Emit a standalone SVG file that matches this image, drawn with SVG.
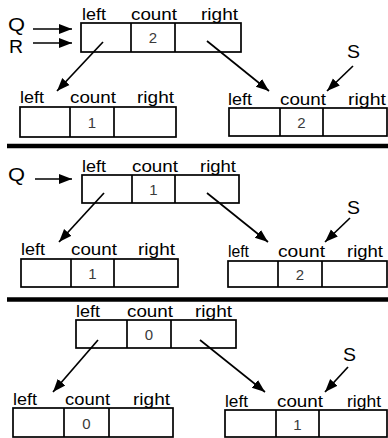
<svg xmlns="http://www.w3.org/2000/svg" width="388" height="438" viewBox="0 0 388 438">
  <style>
    .box { fill: #fff; stroke: #000; stroke-width: 1.7; }
    .div { stroke: #000; stroke-width: 1.7; }
    .lbl { font-family: "Liberation Sans", Arial, sans-serif; font-size: 16.5px; fill: #000; }
    .num { font-family: "Liberation Sans", Arial, sans-serif; font-size: 15px; fill: #3a3a3a; text-anchor: middle; }
    .ptr { font-family: "Liberation Sans", Arial, sans-serif; font-size: 18px; fill: #000; }
    .arr { stroke: #000; stroke-width: 1.7; fill: none; marker-end: url(#head); }
    .sep { stroke: #000; stroke-width: 4.5; }
  </style>
  <defs>
    <marker id="head" markerUnits="userSpaceOnUse" markerWidth="14" markerHeight="12" viewBox="0 0 14 12" refX="13" refY="6" orient="auto">
      <path d="M0,1 L13,6 L0,11 Z" fill="#000"/>
    </marker>
  </defs>

  <rect width="388" height="438" fill="#fff"/>

  <!-- separators between the three stages -->
  <g id="separators">
    <line class="sep" x1="7" y1="146" x2="388" y2="146"/>
    <line class="sep" x1="7" y1="299.5" x2="388" y2="299.5"/>
  </g>

  <!-- stage 1 -->
  <g id="s1-top">
    <rect class="box" x="81" y="23" width="160" height="29"/>
    <line class="div" x1="131" y1="23" x2="131" y2="52"/>
    <line class="div" x1="175" y1="23" x2="175" y2="52"/>
    <text class="lbl" x="82" y="20" textLength="24" lengthAdjust="spacingAndGlyphs">left</text>
    <text class="lbl" x="131" y="20" textLength="46" lengthAdjust="spacingAndGlyphs">count</text>
    <text class="lbl" x="201" y="20" textLength="37" lengthAdjust="spacingAndGlyphs">right</text>
    <text class="num" x="153" y="43">2</text>
  </g>
  <g id="s1-left">
    <rect class="box" x="20" y="107" width="156" height="30"/>
    <line class="div" x1="70" y1="107" x2="70" y2="137"/>
    <line class="div" x1="114" y1="107" x2="114" y2="137"/>
    <text class="lbl" x="20" y="103" textLength="24" lengthAdjust="spacingAndGlyphs">left</text>
    <text class="lbl" x="70" y="103" textLength="46" lengthAdjust="spacingAndGlyphs">count</text>
    <text class="lbl" x="137" y="103" textLength="37" lengthAdjust="spacingAndGlyphs">right</text>
    <text class="num" x="92" y="128">1</text>
  </g>
  <g id="s1-right">
    <rect class="box" x="229" y="108" width="158" height="28"/>
    <line class="div" x1="280" y1="108" x2="280" y2="136"/>
    <line class="div" x1="323" y1="108" x2="323" y2="136"/>
    <text class="lbl" x="228" y="105" textLength="24" lengthAdjust="spacingAndGlyphs">left</text>
    <text class="lbl" x="280" y="105" textLength="46" lengthAdjust="spacingAndGlyphs">count</text>
    <text class="lbl" x="348" y="105" textLength="38" lengthAdjust="spacingAndGlyphs">right</text>
    <text class="num" x="301.5" y="128">2</text>
  </g>
  <g id="s1-pointers">
    <text class="ptr" x="8" y="31" textLength="17" lengthAdjust="spacingAndGlyphs">Q</text>
    <text class="ptr" x="9" y="53" textLength="14" lengthAdjust="spacingAndGlyphs">R</text>
    <text class="ptr" x="347" y="58" textLength="13" lengthAdjust="spacingAndGlyphs">S</text>
  </g>

  <!-- stage 2 -->
  <g id="s2-top">
    <rect class="box" x="82" y="175" width="157" height="28"/>
    <line class="div" x1="132" y1="175" x2="132" y2="203"/>
    <line class="div" x1="175" y1="175" x2="175" y2="203"/>
    <text class="lbl" x="82" y="172" textLength="24" lengthAdjust="spacingAndGlyphs">left</text>
    <text class="lbl" x="132" y="172" textLength="46" lengthAdjust="spacingAndGlyphs">count</text>
    <text class="lbl" x="200" y="172" textLength="36" lengthAdjust="spacingAndGlyphs">right</text>
    <text class="num" x="153.5" y="195">1</text>
  </g>
  <g id="s2-left">
    <rect class="box" x="21" y="259" width="157" height="28"/>
    <line class="div" x1="71" y1="259" x2="71" y2="287"/>
    <line class="div" x1="114" y1="259" x2="114" y2="287"/>
    <text class="lbl" x="21" y="255" textLength="24" lengthAdjust="spacingAndGlyphs">left</text>
    <text class="lbl" x="71" y="255" textLength="46" lengthAdjust="spacingAndGlyphs">count</text>
    <text class="lbl" x="138" y="255" textLength="37" lengthAdjust="spacingAndGlyphs">right</text>
    <text class="num" x="92.5" y="279">1</text>
  </g>
  <g id="s2-right">
    <rect class="box" x="228" y="261" width="159" height="26"/>
    <line class="div" x1="278" y1="261" x2="278" y2="287"/>
    <line class="div" x1="322" y1="261" x2="322" y2="287"/>
    <text class="lbl" x="228" y="257" textLength="21" lengthAdjust="spacingAndGlyphs">left</text>
    <text class="lbl" x="278" y="257" textLength="47" lengthAdjust="spacingAndGlyphs">count</text>
    <text class="lbl" x="347" y="257" textLength="36" lengthAdjust="spacingAndGlyphs">right</text>
    <text class="num" x="300" y="280">2</text>
  </g>
  <g id="s2-pointers">
    <text class="ptr" x="8" y="181" textLength="17" lengthAdjust="spacingAndGlyphs">Q</text>
    <text class="ptr" x="347" y="214" textLength="13" lengthAdjust="spacingAndGlyphs">S</text>
  </g>

  <!-- stage 3 -->
  <g id="s3-top">
    <rect class="box" x="76" y="320" width="160" height="28"/>
    <line class="div" x1="127" y1="320" x2="127" y2="348"/>
    <line class="div" x1="171" y1="320" x2="171" y2="348"/>
    <text class="lbl" x="76" y="317" textLength="24" lengthAdjust="spacingAndGlyphs">left</text>
    <text class="lbl" x="127" y="317" textLength="46" lengthAdjust="spacingAndGlyphs">count</text>
    <text class="lbl" x="195" y="317" textLength="37" lengthAdjust="spacingAndGlyphs">right</text>
    <text class="num" x="149" y="340">0</text>
  </g>
  <g id="s3-left">
    <rect class="box" x="13" y="408" width="160" height="29"/>
    <line class="div" x1="64" y1="408" x2="64" y2="437"/>
    <line class="div" x1="109" y1="408" x2="109" y2="437"/>
    <text class="lbl" x="13" y="405" textLength="24" lengthAdjust="spacingAndGlyphs">left</text>
    <text class="lbl" x="65" y="405" textLength="45" lengthAdjust="spacingAndGlyphs">count</text>
    <text class="lbl" x="133" y="405" textLength="37" lengthAdjust="spacingAndGlyphs">right</text>
    <text class="num" x="86.5" y="429">0</text>
  </g>
  <g id="s3-right">
    <rect class="box" x="225" y="410" width="162" height="27"/>
    <line class="div" x1="276" y1="410" x2="276" y2="437"/>
    <line class="div" x1="319" y1="410" x2="319" y2="437"/>
    <text class="lbl" x="225" y="407" textLength="23" lengthAdjust="spacingAndGlyphs">left</text>
    <text class="lbl" x="277" y="407" textLength="46" lengthAdjust="spacingAndGlyphs">count</text>
    <text class="lbl" x="347" y="407" textLength="34" lengthAdjust="spacingAndGlyphs">right</text>
    <text class="num" x="297.5" y="430">1</text>
  </g>
  <g id="s3-pointers">
    <text class="ptr" x="343" y="361" textLength="13" lengthAdjust="spacingAndGlyphs">S</text>
  </g>

  <!-- connectors -->
  <g id="connectors">
    <line class="arr" x1="33" y1="29" x2="72" y2="29"/>
    <line class="arr" x1="33" y1="43" x2="72" y2="43"/>
    <line class="arr" x1="103" y1="42" x2="57" y2="91"/>
    <line class="arr" x1="207" y1="41" x2="269" y2="91"/>
    <line class="arr" x1="353" y1="66" x2="327" y2="91"/>

    <line class="arr" x1="35" y1="179" x2="72" y2="179"/>
    <line class="arr" x1="104" y1="193" x2="59" y2="242"/>
    <line class="arr" x1="207" y1="193" x2="268" y2="242"/>
    <line class="arr" x1="350" y1="218" x2="325" y2="242"/>

    <line class="arr" x1="98" y1="340" x2="53" y2="392"/>
    <line class="arr" x1="200" y1="340" x2="265" y2="392"/>
    <line class="arr" x1="348" y1="367" x2="325" y2="392"/>
  </g>
</svg>
